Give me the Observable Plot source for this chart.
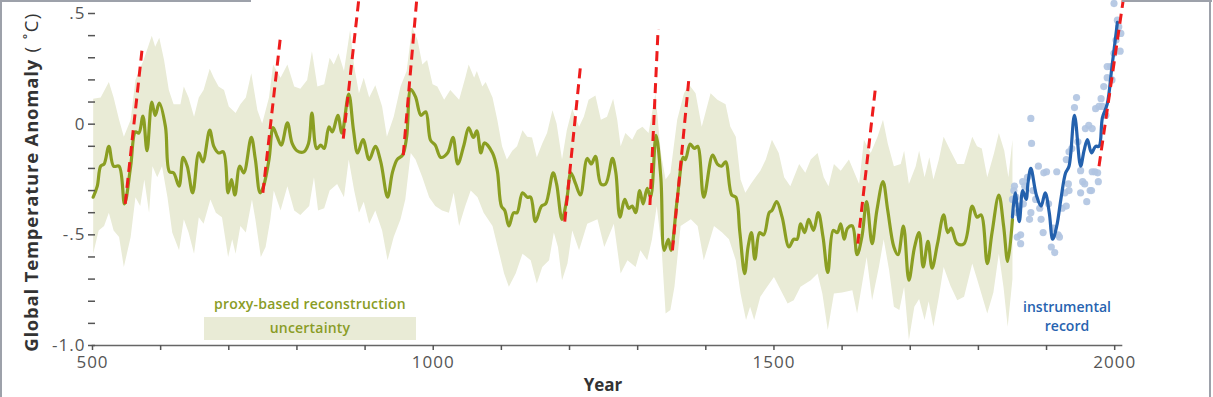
<!DOCTYPE html>
<html>
<head>
<meta charset="utf-8">
<script src="https://cdn.jsdelivr.net/npm/d3@7"></script>
<script src="https://cdn.jsdelivr.net/npm/@observablehq/plot@0.6"></script>
<style>
  html, body { margin: 0; padding: 0; background: #fff; }
  #wrap { position: relative; width: 1213px; height: 397px; overflow: hidden; font-family: "Open Sans", sans-serif; }
  #chart svg { display: block; }
  .bl { position: absolute; background: #9da1aa; }
  .leg { position: absolute; text-align: center; font-weight: 600; white-space: nowrap; }
</style>
</head>
<body>
<div id="wrap">
  <div id="chart"></div>
  <div class="leg" style="left:204px; top:294px; width:212px; font-size:14px; color:#8a9c26; letter-spacing:0.2px;">proxy-based reconstruction</div>
  <div class="leg" style="left:204px; top:317px; width:212px; height:23px; line-height:22px; background:#e9ebd6; font-size:14px; color:#8a9c26; letter-spacing:0.2px;">uncertainty</div>
  <div class="leg" style="left:1017px; top:297px; width:100px; font-size:14px; line-height:19px; color:#2763b0; font-weight:600;">instrumental<br>record</div>
  <div class="bl" style="left:0; top:0; width:2px; height:397px;"></div>
  <div class="bl" style="left:0; top:0; width:251px; height:2px;"></div>
  <div class="bl" style="left:1122px; top:0; width:90px; height:2px;"></div>
  <div class="bl" style="left:1209px; top:0; width:2px; height:397px;"></div>
</div>
<script>
// Proxy-based reconstruction (smoothed)
const proxyYears = [501,507,512,517,524,531,539,547,556,563,568,574,580,587,592,598,607,613,619,627,633,639,647,656,662,672,678,685,692,699,704,709,716,722,733,739,746,751,759,765,771,777,786,793,800,810,817,822,829,835,840,847,852,860,866,876,883,889,897,906,915,923,933,940,947,955,961,967,974,982,989,996,1003,1011,1021,1029,1036,1045,1052,1059,1064,1070,1075,1087,1094,1100,1105,1111,1118,1123,1131,1138,1143,1150,1159,1165,1176,1181,1189,1196,1202,1209,1216,1226,1232,1238,1246,1253,1263,1268,1274,1281,1287,1292,1297,1303,1308,1314,1319,1327,1334,1339,1345,1349,1358,1367,1370,1377,1383,1388,1397,1410,1417,1423,1429,1438,1444,1450,1457,1462,1467,1472,1479,1485,1493,1497,1504,1512,1522,1529,1534,1539,1545,1551,1558,1565,1572,1579,1587,1593,1598,1603,1608,1615,1622,1629,1636,1644,1651,1660,1667,1676,1682,1690,1698,1706,1713,1719,1726,1732,1740,1749,1755,1760,1769,1779,1791,1798,1804,1813,1820,1830,1837,1843,1850];
const proxyValues = [-0.33,-0.28,-0.19,-0.18,-0.10,-0.19,-0.19,-0.36,-0.19,-0.035,-0.04,0.036,-0.12,0.10,0.04,0.095,-0.01,-0.215,-0.22,-0.28,-0.15,-0.19,-0.31,-0.13,-0.17,-0.027,-0.10,-0.13,-0.125,-0.31,-0.25,-0.32,-0.19,-0.22,-0.06,-0.16,-0.31,-0.28,-0.16,-0.015,-0.057,-0.095,0.006,-0.087,-0.12,-0.125,-0.087,0.05,-0.11,-0.095,-0.11,-0.012,-0.035,0.04,-0.04,0.136,-0.027,-0.13,-0.07,-0.16,-0.10,-0.17,-0.33,-0.22,-0.16,-0.14,-0.057,0.157,0.123,0.04,0.056,-0.072,-0.095,-0.15,-0.13,-0.06,-0.18,-0.095,-0.017,-0.06,-0.03,-0.13,-0.085,-0.13,-0.21,-0.37,-0.39,-0.46,-0.40,-0.40,-0.31,-0.33,-0.33,-0.44,-0.37,-0.36,-0.22,-0.27,-0.43,-0.34,-0.22,-0.27,-0.32,-0.155,-0.18,-0.145,-0.27,-0.27,-0.155,-0.22,-0.42,-0.34,-0.38,-0.37,-0.40,-0.30,-0.36,-0.29,-0.33,-0.05,-0.24,-0.57,-0.52,-0.57,-0.34,-0.15,-0.16,-0.09,-0.11,-0.10,-0.33,-0.14,-0.18,-0.19,-0.17,-0.32,-0.33,-0.49,-0.675,-0.555,-0.49,-0.61,-0.49,-0.50,-0.40,-0.39,-0.35,-0.42,-0.555,-0.52,-0.52,-0.45,-0.49,-0.43,-0.48,-0.40,-0.51,-0.67,-0.48,-0.49,-0.45,-0.52,-0.47,-0.46,-0.59,-0.51,-0.35,-0.54,-0.39,-0.26,-0.39,-0.555,-0.59,-0.46,-0.705,-0.56,-0.49,-0.645,-0.53,-0.65,-0.54,-0.41,-0.49,-0.47,-0.54,-0.54,-0.37,-0.42,-0.41,-0.63,-0.49,-0.32,-0.46,-0.62,-0.43];

// Uncertainty envelope
const upperYears = [501,512,524,531,539,546,556,563,575,587,592,598,605,612,619,629,634,641,649,656,663,672,678,685,693,700,710,717,725,733,742,749,759,765,776,786,796,805,815,822,830,840,848,854,861,869,878,884,891,898,906,915,925,932,942,952,961,969,977,984,991,999,1006,1016,1025,1038,1047,1052,1060,1064,1072,1077,1087,1094,1101,1108,1116,1123,1131,1138,1145,1152,1160,1167,1175,1181,1189,1196,1204,1214,1221,1228,1238,1246,1255,1264,1270,1275,1282,1292,1299,1307,1316,1326,1334,1341,1348,1358,1368,1375,1385,1394,1407,1417,1429,1436,1444,1451,1458,1466,1473,1480,1488,1497,1507,1515,1524,1537,1546,1554,1564,1573,1580,1588,1598,1610,1625,1632,1642,1652,1660,1667,1676,1686,1691,1698,1708,1713,1721,1728,1734,1742,1749,1759,1769,1779,1791,1798,1805,1813,1823,1830,1838,1844,1850];
const upperValues = [0.115,0.12,0.19,0.12,0.02,-0.057,0.02,0.2,0.29,0.40,0.35,0.39,0.29,0.154,0.09,0.09,0.17,0.12,0.033,0.12,0.154,0.25,0.21,0.17,0.154,0.08,0.05,0.09,0.12,0.23,0.063,0.003,0.12,0.27,0.21,0.27,0.17,0.16,0.2,0.33,0.17,0.18,0.30,0.27,0.32,0.24,0.425,0.26,0.14,0.21,0.12,0.176,0.08,-0.057,0.033,0.17,0.24,0.44,0.38,0.27,0.29,0.18,0.17,0.11,0.154,0.11,0.21,0.27,0.21,0.24,0.17,0.19,0.12,0.02,-0.10,-0.16,-0.12,-0.10,-0.027,-0.057,-0.06,-0.15,-0.087,-0.04,0.063,0.003,-0.16,-0.027,0.07,-0.012,0.033,0.11,0.13,0.02,0.033,0.115,0.02,-0.10,-0.04,-0.07,-0.027,-0.012,-0.04,0.14,-0.13,-0.25,-0.22,0.02,0.14,0.18,0.14,-0.012,0.14,0.11,0.09,-0.012,-0.057,-0.25,-0.31,-0.27,-0.24,-0.21,-0.16,-0.07,-0.13,-0.24,-0.28,-0.18,-0.22,-0.16,-0.13,-0.24,-0.28,-0.18,-0.21,-0.16,-0.27,-0.07,-0.13,-0.057,0.02,-0.087,-0.19,-0.18,-0.12,-0.27,-0.19,-0.12,-0.24,-0.15,-0.25,-0.16,-0.057,-0.12,-0.18,-0.18,-0.057,-0.10,-0.11,-0.24,-0.13,-0.04,-0.12,-0.24,-0.07];
const lowerYears = [501,509,517,524,531,539,546,556,563,570,576,583,588,595,602,610,617,627,634,641,649,656,663,673,681,690,699,705,710,717,725,734,739,747,754,761,766,776,786,796,805,818,825,831,840,848,859,869,876,884,891,898,906,915,925,933,942,952,959,967,974,984,994,1003,1013,1023,1030,1038,1047,1055,1065,1074,1087,1097,1104,1111,1121,1131,1143,1152,1160,1170,1177,1183,1189,1197,1204,1214,1226,1241,1251,1265,1275,1285,1297,1304,1314,1321,1328,1335,1341,1348,1354,1363,1378,1388,1397,1412,1424,1434,1444,1451,1459,1465,1471,1480,1490,1500,1510,1520,1529,1539,1554,1564,1571,1579,1588,1600,1615,1622,1636,1644,1654,1661,1669,1676,1684,1691,1698,1706,1713,1721,1727,1734,1742,1749,1759,1769,1779,1791,1798,1813,1822,1830,1837,1843,1850];
const lowerValues = [-0.585,-0.48,-0.46,-0.40,-0.48,-0.51,-0.645,-0.51,-0.33,-0.37,-0.25,-0.40,-0.19,-0.24,-0.19,-0.33,-0.49,-0.57,-0.43,-0.49,-0.585,-0.42,-0.45,-0.34,-0.40,-0.42,-0.60,-0.52,-0.585,-0.46,-0.49,-0.34,-0.43,-0.60,-0.555,-0.43,-0.30,-0.39,-0.28,-0.39,-0.41,-0.37,-0.24,-0.39,-0.38,-0.30,-0.27,-0.33,-0.16,-0.30,-0.40,-0.35,-0.45,-0.39,-0.48,-0.615,-0.51,-0.43,-0.34,-0.13,-0.16,-0.24,-0.33,-0.37,-0.39,-0.40,-0.31,-0.46,-0.37,-0.30,-0.33,-0.40,-0.46,-0.585,-0.675,-0.735,-0.675,-0.585,-0.615,-0.72,-0.645,-0.615,-0.49,-0.555,-0.705,-0.63,-0.48,-0.57,-0.45,-0.43,-0.555,-0.45,-0.675,-0.615,-0.645,-0.57,-0.615,-0.52,-0.37,-0.555,-0.855,-0.84,-0.735,-0.46,-0.43,-0.46,-0.615,-0.46,-0.49,-0.52,-0.615,-0.765,-0.885,-0.825,-0.885,-0.78,-0.735,-0.69,-0.75,-0.81,-0.795,-0.735,-0.705,-0.675,-0.765,-0.93,-0.765,-0.76,-0.75,-0.855,-0.60,-0.795,-0.645,-0.52,-0.66,-0.825,-0.84,-0.735,-0.975,-0.825,-0.79,-0.885,-0.80,-0.915,-0.78,-0.645,-0.73,-0.795,-0.78,-0.63,-0.70,-0.855,-0.76,-0.585,-0.74,-0.915,-0.70];

// Instrumental record (smoothed)
const instYears = [1850,1854,1860,1865,1870,1873,1877,1885,1892,1898,1904,1909,1915,1921,1928,1933,1941,1950,1955,1960,1966,1972,1977,1982,1989,1996,2004];
const instValues = [-0.42,-0.31,-0.44,-0.30,-0.34,-0.26,-0.20,-0.32,-0.37,-0.31,-0.40,-0.52,-0.46,-0.34,-0.22,-0.19,0.04,-0.19,-0.12,-0.07,-0.13,-0.10,-0.10,0.03,0.09,0.26,0.46];

// Instrumental annual values
const obsYears = [1850,1852,1853,1855,1857,1857,1860,1862,1862,1865,1866,1868,1872,1875,1877,1877,1878,1880,1884,1888,1890,1892,1895,1896,1900,1903,1907,1910,1912,1915,1917,1919,1923,1927,1929,1929,1932,1933,1933,1937,1941,1944,1946,1950,1950,1953,1956,1957,1959,1962,1964,1966,1967,1967,1971,1972,1975,1976,1977,1980,1982,1984,1987,1989,1989,1994,1996,1999,1999,2002,2004,2006,2008,2009];
const obsValues = [-0.34,-0.30,-0.28,-0.33,-0.40,-0.51,-0.37,-0.50,-0.54,-0.26,-0.36,-0.28,-0.24,-0.43,-0.40,0.026,-0.087,-0.30,-0.34,-0.19,-0.38,-0.43,-0.49,-0.22,-0.215,-0.36,-0.555,-0.47,-0.58,-0.215,-0.50,-0.51,-0.38,-0.31,-0.37,-0.16,-0.27,-0.125,-0.30,-0.11,0.075,0.12,-0.08,-0.21,-0.31,-0.26,-0.27,-0.02,-0.35,-0.005,-0.30,-0.30,-0.02,-0.215,-0.215,0.07,-0.22,-0.26,0.08,0.115,0.08,0.17,0.04,0.21,0.26,0.26,0.20,0.32,0.545,0.38,0.47,0.44,0.33,0.41];

// Red dashed warming trends
const trendStartYears = [548,750,868,956,1193,1318,1351,1623,1977];
const trendStartValues = [-0.36,-0.31,-0.065,-0.14,-0.44,-0.365,-0.57,-0.54,-0.19];
const trendEndYears = [573,776,891,976,1216,1330,1375,1649,2013];
const trendEndValues = [0.345,0.40,0.57,0.57,0.26,0.43,0.20,0.166,0.57];

// Axes
const xTickYears = [500,600,700,800,900,1000,1100,1200,1300,1400,1500,1600,1700,1800,1900,2000];
const xLabelYears = [500,1000,1500,2000];
const yTickValues = [-1,-0.9,-0.8,-0.7,-0.6,-0.5,-0.4,-0.3,-0.2,-0.1,0,0.1,0.2,0.3,0.4,0.5];
const yLabelValues = [0.5,0,-0.5,-1];
const yLabelTexts = [".5","0","-.5","-1.0"];

const proxy = proxyYears.map((x, i) => ({x, y: proxyValues[i]}));
const band = upperYears.map((x, i) => ({x, y: upperValues[i]}))
  .concat(lowerYears.map((x, i) => ({x, y: lowerValues[i]})).reverse());
const inst = instYears.map((x, i) => ({x, y: instValues[i]}));
const obs = obsYears.map((x, i) => ({x, y: obsValues[i]}));
const trends = trendStartYears.map((x1, i) => ({x1, y1: trendStartValues[i], x2: trendEndYears[i], y2: trendEndValues[i]}));

const chart = Plot.plot({
  width: 1213,
  height: 397,
  marginLeft: 92,
  marginRight: 92,
  marginTop: 13,
  marginBottom: 52,
  x: {domain: [500, 2010]},
  y: {domain: [-1, 0.5]},
  style: {fontFamily: "'Open Sans', sans-serif", overflow: "visible", background: "transparent"},
  marks: [
    Plot.line(band, {x: "x", y: "y", fill: "#e9ebd6", stroke: "none"}),
    Plot.dot(obs, {x: "x", y: "y", r: 3.6, fill: "#b0c4e1", stroke: "none", fillOpacity: 0.9}),
    Plot.line(proxy, {x: "x", y: "y", stroke: "#8a9e22", strokeWidth: 3.2, curve: "catmull-rom"}),
    Plot.line(inst, {x: "x", y: "y", stroke: "#2461ad", strokeWidth: 3.2, curve: "catmull-rom"}),
    Plot.link(trends, {x1: "x1", y1: "y1", x2: "x2", y2: "y2", stroke: "#ee1c1c", strokeWidth: 3, strokeDasharray: "10,6"}),
    Plot.frame({anchor: "bottom", stroke: "#666", strokeWidth: 1.6}),
    Plot.axisX({ticks: xTickYears, tickSize: 5, tickFormat: () => "", stroke: "#555", strokeWidth: 1.5, label: null}),
    Plot.axisX({ticks: xLabelYears, tickSize: 0, tickPadding: 10, tickFormat: d => String(d), fontSize: 17, fill: "#555", label: null}),
    Plot.axisY({ticks: yTickValues, tickSize: 7, dx: 3, tickFormat: () => "", stroke: "#555", strokeWidth: 1.5, label: null}),
    Plot.axisY({ticks: yLabelValues, tickSize: 0, tickPadding: 7, tickFormat: d => yLabelTexts[yLabelValues.indexOf(d)], fontSize: 17, fill: "#555", label: null})
  ]
});
document.getElementById("chart").appendChild(chart);

const svg = d3.select(chart);
svg.selectAll("g[aria-label='x-axis tick label'] text, g[aria-label='y-axis tick label'] text").style("letter-spacing", "1px");
const yl = svg.append("text")
  .attr("transform", "translate(38,182) rotate(-90)")
  .attr("text-anchor", "middle")
  .attr("fill", "#333")
  .style("font-family", "'Open Sans', sans-serif")
  .style("font-size", "18.5px");
yl.append("tspan").attr("font-weight", "bold").style("letter-spacing", "0.8px").text("Global Temperature Anomaly");
yl.append("tspan").attr("font-weight", "normal").style("letter-spacing", "1.5px").text(" ( ˚C)");
svg.append("text")
  .attr("x", 603).attr("y", 391)
  .attr("text-anchor", "middle")
  .attr("fill", "#333")
  .attr("font-weight", "bold")
  .style("font-family", "'Open Sans', sans-serif")
  .style("font-size", "17px")
  .text("Year");
</script>
</body>
</html>
